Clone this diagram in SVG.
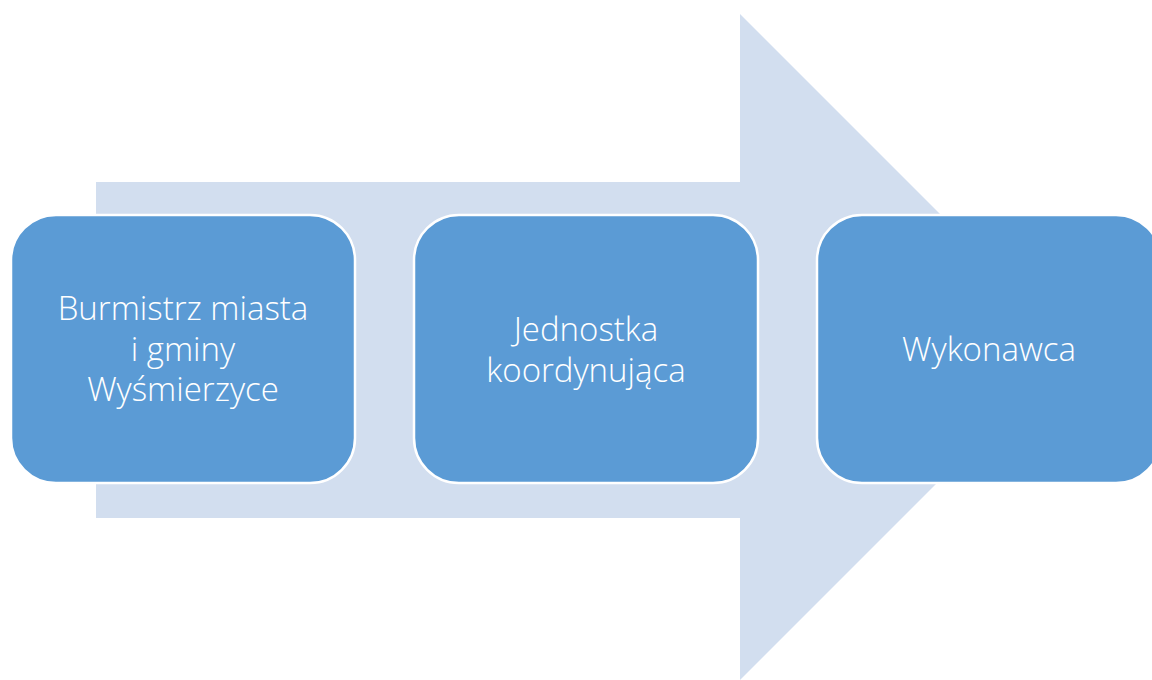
<svg xmlns="http://www.w3.org/2000/svg" width="1152" height="680" viewBox="0 0 1152 680">
<style>
.box{fill:#5B9BD5;stroke:#FFFFFF;stroke-width:2.5}
.lbl{font-family:"Open Sans","Liberation Sans",sans-serif;font-weight:300;font-size:33px;fill:#FFFFFF;text-anchor:middle}
</style>
<rect width="1152" height="680" fill="#FFFFFF"/>
<g id="connectors">
<polygon points="96,182 740,182 740,14 1073,347 740,680 740,518 96,518" fill="#D2DEEF"/>
</g>
<g id="node1">
<rect class="box" x="11" y="215" width="344" height="268" rx="45" ry="45"/>
<text class="lbl" x="183" y="320">Burmistrz miasta</text>
<text class="lbl" x="183" y="361">i gminy</text>
<text class="lbl" x="183" y="401">Wyśmierzyce</text>
</g>
<g id="node2">
<rect class="box" x="414" y="215" width="344" height="268" rx="45" ry="45"/>
<text class="lbl" x="586" y="341">Jednostka</text>
<text class="lbl" x="586" y="382">koordynująca</text>
</g>
<g id="node3">
<rect class="box" x="817" y="215" width="344" height="268" rx="45" ry="45"/>
<text class="lbl" x="989" y="361">Wykonawca</text>
</g>
</svg>
